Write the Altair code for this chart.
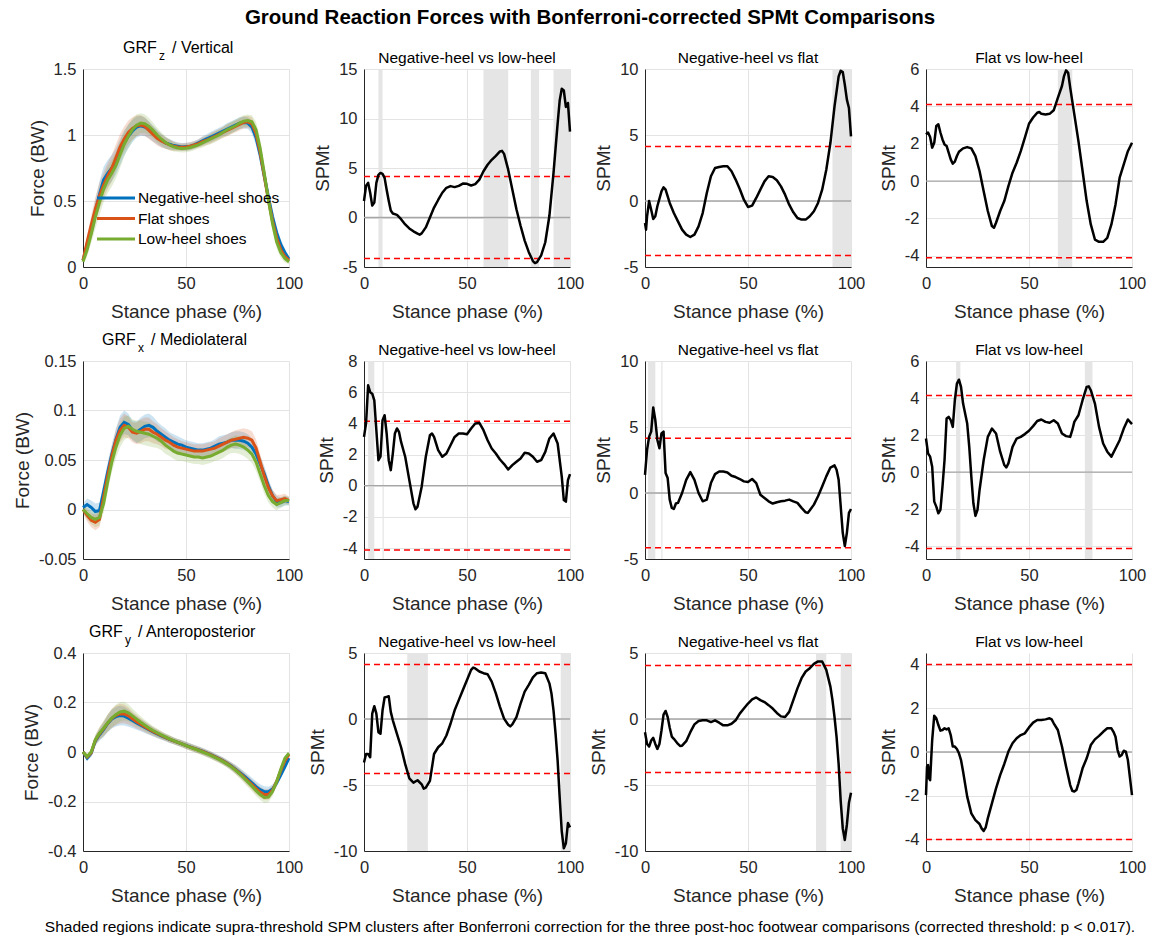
import altair as alt
import pandas as pd

FONT = "Liberation Sans"
INK = "#262626"
SHADE = "#e5e5e5"
PANEL_W, PANEL_H = 206, 198

SHOES = ["Negative-heel shoes", "Flat shoes", "Low-heel shoes"]
SHOE_COLORS = ["#0072BD", "#D95319", "#77AC30"]
COMPARISONS = ["Negative-heel vs low-heel", "Negative-heel vs flat", "Flat vs low-heel"]
TITLE = "Ground Reaction Forces with Bonferroni-corrected SPMt Comparisons"
FOOTER = ("Shaded regions indicate supra-threshold SPM clusters after Bonferroni correction for the "
          "three post-hoc footwear comparisons (corrected threshold: p < 0.017).")

# ---- mean GRF curves (BW), sampled every 2 % of stance ----
STANCE = list(range(0, 101, 2))

GRF_Z_NEG = [.05, .17, .29, .42, .55, .66, .71, .75, .80, .87, .94, .99, 1.03, 1.06, 1.07, 1.06, 1.04,
             1.01, .985, .96, .94, .93, .92, .915, .91, .912, .915, .925, .94, .955, .97, .985, 1.0,
             1.015, 1.03, 1.045, 1.06, 1.075, 1.09, 1.095, 1.09, 1.06, .98, .85, .69, .53, .38, .26,
             .17, .11, .06]
GRF_Z_FLAT = [.05, .19, .32, .44, .54, .62, .69, .75, .83, .91, .97, 1.02, 1.05, 1.07, 1.075, 1.065,
              1.035, 1.005, .975, .955, .94, .925, .915, .91, .908, .91, .915, .925, .935, .95, .96,
              .975, .99, 1.005, 1.02, 1.035, 1.05, 1.065, 1.08, 1.095, 1.1, 1.085, 1.01, .87, .69, .51,
              .35, .22, .13, .08, .05]
GRF_Z_LOW = [.04, .13, .25, .38, .49, .59, .66, .71, .77, .85, .93, .99, 1.04, 1.075, 1.09, 1.085,
             1.065, 1.035, 1.0, .97, .945, .925, .91, .902, .898, .9, .905, .915, .925, .94, .955, .97,
             .985, 1.0, 1.02, 1.04, 1.055, 1.07, 1.09, 1.105, 1.11, 1.1, 1.04, .9, .71, .51, .33, .19,
             .11, .065, .04]
GRF_Z_SD = [.02, .05, .07, .09, .1, .1, .1, .1, .1, .1, .095, .09, .085, .08, .075, .07, .065, .06,
            .055, .05, .045, .04, .035, .03, .03, .03, .03, .03, .03, .035, .035, .04, .04, .04, .04,
            .045, .045, .045, .045, .045, .045, .05, .06, .07, .07, .07, .06, .05, .04, .03, .02]

GRF_X_NEG = [.002, .005, .002, -.002, -.001, .018, .038, .056, .071, .083, .088, .086, .08, .078, .081,
             .084, .085, .083, .079, .076, .073, .07, .068, .066, .065, .063, .062, .061, .06, .06,
             .061, .062, .064, .066, .067, .068, .07, .07, .07, .069, .067, .063, .056, .046, .036,
             .024, .014, .008, .007, .009, .008]
GRF_X_FLAT = [0, -.006, -.011, -.013, -.01, .012, .034, .054, .07, .08, .085, .083, .078, .077, .079,
              .081, .081, .078, .076, .073, .07, .068, .065, .063, .062, .061, .06, .059, .059, .059,
              .06, .061, .062, .064, .066, .068, .07, .071, .072, .073, .072, .07, .062, .048, .034,
              .022, .014, .009, .01, .011, .009]
GRF_X_LOW = [0, -.004, -.008, -.01, -.008, .006, .028, .048, .063, .075, .082, .084, .081, .079, .078,
             .077, .076, .074, .072, .069, .065, .062, .059, .057, .056, .055, .054, .053, .053, .052,
             .053, .054, .056, .058, .06, .063, .065, .066, .065, .063, .06, .056, .048, .036, .024,
             .014, .008, .005, .007, .009, .009]
GRF_X_SD = [.004, .006, .007, .008, .008, .009, .01, .01, .011, .012, .012, .011, .01, .011, .012, .012,
            .012, .011, .01, .009, .009, .008, .008, .008, .007, .007, .007, .007, .007, .007, .007,
            .007, .007, .008, .008, .008, .008, .009, .009, .009, .009, .009, .009, .008, .008, .007,
            .006, .006, .005, .005, .004]

GRF_Y_NEG = [0, -.025, -.005, .045, .07, .09, .115, .133, .143, .147, .145, .137, .127, .117, .108, .099,
             .09, .081, .073, .065, .058, .051, .045, .039, .033, .027, .021, .015, .009, .003, -.004,
             -.011, -.019, -.027, -.036, -.046, -.057, -.069, -.082, -.096, -.11, -.125, -.14, -.152,
             -.16, -.161, -.15, -.125, -.093, -.06, -.025]
GRF_Y_FLAT = [0, -.02, -.003, .048, .074, .094, .117, .136, .148, .155, .154, .146, .134, .122, .112,
              .102, .092, .083, .075, .067, .059, .052, .045, .039, .033, .026, .02, .014, .008, .002,
              -.005, -.012, -.02, -.028, -.037, -.047, -.058, -.071, -.085, -.1, -.116, -.132, -.148,
              -.162, -.172, -.172, -.155, -.12, -.075, -.035, -.01]
GRF_Y_LOW = [0, -.018, 0, .05, .076, .096, .118, .137, .152, .162, .165, .158, .146, .133, .12, .108,
             .097, .087, .078, .069, .061, .053, .046, .039, .033, .026, .019, .013, .007, 0, -.007,
             -.014, -.022, -.03, -.039, -.049, -.06, -.073, -.088, -.104, -.121, -.138, -.156, -.172,
             -.184, -.182, -.16, -.12, -.07, -.025, -.005]
GRF_Y_SD = [.006, .01, .015, .02, .025, .03, .035, .038, .04, .04, .038, .035, .03, .027, .024, .022,
            .02, .018, .017, .016, .015, .015, .014, .014, .014, .014, .014, .014, .014, .014, .014,
            .014, .014, .014, .015, .015, .016, .017, .018, .019, .02, .021, .022, .022, .022, .021,
            .019, .016, .013, .01, .008]

# ---- SPM{t} curves: stance (%) and t value ----
Z_NL_X = [0, 1, 2, 3, 4, 5, 6, 7, 8, 9, 10, 11, 12, 13, 14, 16, 18, 20, 22, 24, 26, 27, 28, 30, 32, 34,
          36, 38, 40, 42, 44, 46, 48, 50, 52, 54, 56, 58, 60, 62, 64, 66, 67, 68, 70, 72, 74, 76, 78,
          80, 82, 83, 84, 86, 88, 90, 92, 94, 95, 96, 97, 98, 99, 100]
Z_NL_T = [1.67, 3.2, 3.5, 2.5, 1.2, 1.5, 3.5, 4.3, 4.5, 4.4, 4.0, 2.8, 1.7, 0.7, 0.4, 0.27, -0.17, -0.7,
          -1.1, -1.4, -1.63, -1.73, -1.6, -1.0, 0.0, 1.0, 1.77, 2.5, 3.0, 3.17, 3.07, 3.2, 3.43, 3.4,
          3.23, 3.37, 3.83, 4.67, 5.33, 5.83, 6.23, 6.67, 6.73, 6.43, 4.83, 2.83, 0.83, -0.83, -2.33,
          -3.5, -4.4, -4.6, -4.5, -3.83, -2.5, 0.17, 4.5, 9.5, 11.83, 13.0, 12.83, 11.17, 11.57, 8.67]

Z_NF_X = [0, 0.5, 1, 2, 3, 4, 5, 6, 8, 9, 10, 12, 14, 16, 18, 20, 22, 24, 26, 28, 30, 32, 34, 36, 38,
          40, 42, 44, 46, 48, 50, 52, 54, 56, 58, 60, 62, 64, 66, 68, 70, 72, 74, 76, 78, 80, 82, 84,
          86, 88, 90, 92, 93, 94, 95, 96, 97, 98, 99, 100]
Z_NF_T = [-1.67, -2.17, -1.16, 0.0, -0.66, -1.36, -1.16, -0.4, 0.73, 1.04, 0.86, -0.15, -0.91, -1.54,
          -2.17, -2.55, -2.73, -2.55, -1.92, -0.91, 0.61, 1.87, 2.5, 2.58, 2.63, 2.63, 2.25, 1.62, 0.91,
          0.1, -0.45, -0.35, 0.23, 0.86, 1.49, 1.87, 1.82, 1.57, 1.11, 0.48, -0.28, -0.86, -1.29, -1.41,
          -1.41, -1.16, -0.78, -0.15, 0.86, 2.37, 4.39, 7.17, 8.3, 9.44, 9.87, 9.77, 8.81, 7.68, 7.05,
          4.9]

Z_FL_X = [0, 1, 2, 3, 4, 5, 6, 7, 8, 9, 10, 11, 12, 13, 14, 15, 16, 18, 20, 22, 24, 26, 28, 30, 32, 33,
          34, 36, 38, 40, 42, 44, 46, 48, 50, 52, 54, 55, 56, 58, 60, 62, 64, 66, 67, 68, 69, 70, 72,
          74, 76, 78, 80, 82, 84, 86, 88, 90, 92, 94, 96, 98, 100]
Z_FL_T = [2.5, 2.6, 2.36, 1.79, 2.05, 2.95, 3.04, 2.6, 2.23, 1.96, 1.88, 1.52, 1.16, 0.93, 1.04, 1.34,
          1.57, 1.75, 1.82, 1.75, 1.34, 0.54, -0.54, -1.6, -2.41, -2.5, -2.23, -1.6, -1.07, -0.27, 0.45,
          0.98, 1.6, 2.32, 3.07, 3.4, 3.66, 3.7, 3.6, 3.57, 3.6, 3.79, 4.46, 5.09, 5.62, 5.93, 5.8, 5.0,
          3.57, 2.14, 0.54, -1.07, -2.32, -3.13, -3.25, -3.25, -3.04, -2.32, -1.25, 0.18, 0.9, 1.6, 2.05]

X_NL_X = [0, 1, 2, 3, 4, 5, 6, 7, 8, 9, 10, 11, 12, 13, 14, 15, 16, 17, 18, 20, 22, 24, 25, 26, 28, 30,
          32, 33, 34, 36, 38, 40, 42, 44, 46, 48, 50, 52, 54, 56, 58, 60, 62, 64, 66, 68, 70, 72, 74,
          76, 78, 80, 82, 84, 86, 88, 90, 92, 94, 96, 97, 98, 99, 100]
X_NL_T = [3.13, 4.0, 6.44, 6.0, 5.9, 5.48, 3.56, 1.64, 1.86, 4.2, 4.52, 3.35, 1.64, 1.0, 2.07, 3.35, 3.67,
          3.45, 2.81, 1.86, 0.36, -1.13, -1.51, -1.34, -0.06, 1.86, 3.24, 3.35, 3.13, 2.28, 1.86, 2.07,
          2.6, 3.13, 3.35, 3.35, 3.3, 3.67, 3.99, 4.03, 3.56, 2.92, 2.39, 2.07, 1.68, 1.39, 1.04, 1.32,
          1.54, 1.75, 2.11, 2.07, 1.86, 1.54, 1.64, 2.17, 3.03, 3.35, 2.71, 0.58, -0.92, -1.02, 0.36,
          0.75]

X_NF_X = [0, 1, 2, 3, 4, 5, 6, 7, 8, 9, 10, 11, 12, 13, 14, 15, 16, 18, 20, 22, 24, 26, 28, 30, 32, 34,
          36, 38, 40, 42, 44, 46, 48, 50, 52, 54, 56, 58, 60, 62, 64, 66, 68, 70, 72, 74, 76, 78, 79,
          80, 82, 84, 86, 88, 90, 92, 93, 94, 95, 96, 97, 98, 99, 100]
X_NF_T = [1.38, 3.27, 4.27, 4.65, 6.48, 5.53, 4.02, 3.39, 4.52, 4.65, 1.51, 1.13, -0.5, -1.13, -1.21,
          -0.8, -0.75, 0.0, 1.0, 1.58, 1.0, 0.0, -0.63, -0.5, 0.75, 1.43, 1.63, 1.63, 1.56, 1.31, 1.21,
          1.06, 0.88, 0.83, 1.06, 0.75, -0.13, -0.38, -0.63, -0.8, -0.7, -0.63, -0.58, -0.5, -0.63,
          -0.75, -1.13, -1.46, -1.51, -1.31, -0.88, -0.25, 0.5, 1.26, 1.93, 2.09, 1.76, 1.0, -1.0,
          -3.02, -4.02, -3.02, -1.51, -1.21]

X_FL_X = [0, 1, 2, 3, 4, 5, 6, 7, 8, 9, 10, 11, 12, 13, 14, 15, 16, 17, 18, 20, 21, 22, 23, 24, 25, 26,
          28, 30, 32, 34, 36, 38, 39, 40, 42, 44, 46, 48, 50, 52, 54, 56, 58, 60, 62, 64, 66, 68, 70,
          71, 72, 74, 76, 78, 79, 80, 82, 84, 86, 88, 90, 92, 94, 96, 98, 100]
X_FL_T = [1.81, 1.0, 0.83, 0.29, -1.6, -1.87, -2.23, -2.05, -0.79, 0.65, 2.89, 2.98, 2.8, 2.44, 3.88,
          4.78, 4.99, 4.6, 3.7, 2.62, 1.36, -0.25, -1.69, -2.37, -2.05, -0.97, 0.65, 1.9, 2.35, 2.08,
          1.1, 0.38, 0.25, 0.47, 1.36, 1.81, 1.9, 2.05, 2.23, 2.48, 2.76, 2.84, 2.71, 2.66, 2.8, 2.62,
          2.08, 1.94, 1.9, 2.26, 2.71, 3.07, 3.88, 4.6, 4.63, 4.42, 3.7, 2.44, 1.54, 1.1, 0.83, 1.27,
          1.72, 2.35, 2.84, 2.59]

Y_NL_X = [0, 1, 2, 3, 4, 5, 6, 7, 8, 9, 10, 11, 12, 13, 14, 15, 16, 18, 20, 22, 24, 26, 28, 29, 30, 32,
          34, 36, 38, 40, 42, 44, 46, 48, 50, 52, 53, 54, 56, 58, 60, 62, 64, 66, 68, 70, 71, 72, 74,
          76, 78, 80, 82, 84, 86, 88, 90, 91, 92, 93, 94, 95, 96, 97, 98, 99, 100]
Y_NL_T = [-3.29, -2.65, -2.65, -2.9, 0.41, 0.97, 0.41, -1.0, -1.12, 0.66, 1.63, 1.68, 1.73, 0.54, -0.1,
          -0.61, -1.12, -2.14, -3.42, -4.49, -4.82, -4.64, -4.95, -5.28, -5.2, -4.69, -2.65, -2.14,
          -1.84, -1.25, -0.36, 0.66, 1.43, 2.19, 2.96, 3.72, 3.9, 3.83, 3.6, 3.47, 3.39, 2.83, 1.94,
          0.92, 0.03, -0.43, -0.56, -0.41, 0.15, 1.17, 2.07, 2.58, 3.16, 3.47, 3.52, 3.47, 2.7, 1.94,
          0.66, -1.12, -3.16, -5.97, -8.52, -9.8, -9.41, -7.88, -8.21]

Y_NF_X = [0, 1, 2, 3, 4, 5, 6, 7, 8, 9, 10, 11, 12, 13, 14, 16, 17, 18, 20, 22, 24, 26, 28, 30, 32, 34,
          36, 38, 40, 42, 44, 46, 48, 50, 52, 54, 56, 58, 60, 62, 64, 66, 68, 70, 72, 74, 76, 78, 80,
          82, 84, 86, 88, 90, 91, 92, 93, 94, 95, 96, 97, 98, 99, 100]
Y_NF_T = [-1.0, -1.89, -2.09, -1.63, -1.43, -1.89, -2.27, -1.89, -0.87, 0.33, 0.61, 0.15, -0.66, -1.33,
          -1.5, -1.89, -2.04, -2.02, -1.68, -1.0, -0.41, -0.15, -0.1, -0.1, -0.23, -0.1, -0.28, -0.48,
          -0.48, -0.36, -0.1, 0.41, 0.79, 1.17, 1.48, 1.63, 1.43, 1.28, 1.05, 0.79, 0.46, 0.2, 0.15,
          0.54, 1.43, 2.32, 3.09, 3.6, 3.85, 4.18, 4.36, 4.36, 3.72, 2.45, 1.43, 0.15, -1.38, -3.42,
          -6.22, -8.27, -9.16, -8.01, -6.35, -5.59]

Y_FL_X = [0, 0.5, 1, 1.5, 2, 3, 4, 5, 6, 7, 8, 9, 10, 11, 12, 13, 14, 15, 16, 17, 18, 20, 22, 24, 26,
          27, 28, 29, 30, 32, 34, 36, 38, 40, 42, 44, 46, 48, 50, 52, 54, 56, 58, 60, 61, 62, 64, 66,
          68, 70, 71, 72, 73, 74, 76, 78, 80, 82, 84, 86, 88, 90, 91, 92, 93, 94, 95, 96, 97, 98, 100]
Y_FL_T = [-1.98, -0.67, -0.6, -1.21, -1.29, 0.55, 1.67, 1.55, 1.24, 0.98, 1.01, 1.09, 1.04, 1.09, 0.78,
          0.25, 0.25, 0.14, -0.06, -0.37, -0.9, -2.05, -2.82, -3.13, -3.31, -3.51, -3.63, -3.46, -3.05,
          -2.36, -1.67, -1.06, -0.55, 0.02, 0.4, 0.63, 0.78, 0.86, 1.13, 1.35, 1.47, 1.47, 1.5, 1.55,
          1.5, 1.32, 1.01, 0.25, -0.67, -1.52, -1.78, -1.82, -1.75, -1.44, -0.75, -0.29, 0.32, 0.58,
          0.74, 0.93, 1.09, 1.09, 0.93, 0.7, 0.09, -0.21, -0.14, 0.06, 0.02, -0.37, -1.98]

# critical t thresholds (Bonferroni) per comparison
THR_Z = [4.15, 4.13, 4.1]
THR_X = [4.13, 4.15, 4.13]
THR_Y = [4.13, 4.05, 4.02]

# supra-threshold clusters (start, end) in % stance
CL_Z = [[(7, 9), (58, 70), (81, 85), (92, 100)], [(91, 100)], [(64, 71)]]
CL_X = [[(2, 5), (9, 9.6)], [(1.5, 5), (7.9, 8.5)], [(14.6, 16.7), (77.1, 80.8)]]
CL_Y = [[(21, 31), (95.5, 100)], [(83, 88), (95, 100)], []]

LABEL_EXPR = ("datum.value < 0 ? '-' + format(-datum.value, '~g') "
              ": format(datum.value, '~g')")


def x_enc():
    return alt.X("x:Q", scale=alt.Scale(domain=[0, 100], nice=False, zero=False),
                 axis=alt.Axis(values=[0, 50, 100], title="Stance phase (%)",
                               labelExpr=LABEL_EXPR, labelFlush=False))


def y_enc(field, domain, ticks, title):
    return alt.Y(f"{field}:Q", scale=alt.Scale(domain=domain, nice=False, zero=False),
                 axis=alt.Axis(values=ticks, title=title, labelExpr=LABEL_EXPR, labelFlush=False))


def text_layer(text, x, y, size, align="left", weight="normal"):
    return alt.Chart(pd.DataFrame({"label": [text]})).mark_text(
        align=align, baseline="alphabetic", fontSize=size, font=FONT, color="black",
        fontWeight=weight
    ).encode(x=alt.value(x), y=alt.value(y), text="label:N")


def grf_panel(sub, rest, title_x, means, sd, domain, ticks, legend=False, footer=False):
    X = x_enc()
    bands, lines = [], []
    for color, mean in zip(SHOE_COLORS, means):
        df = pd.DataFrame({"x": STANCE, "m": mean,
                           "lo": [m - s for m, s in zip(mean, sd)],
                           "hi": [m + s for m, s in zip(mean, sd)]})
        bands.append(alt.Chart(df).mark_area(color=color, opacity=0.2).encode(
            x=X, y=y_enc("lo", domain, ticks, "Force (BW)"), y2="hi:Q"))
        lines.append(alt.Chart(df).mark_line(color=color, strokeWidth=3).encode(
            x=X, y=y_enc("m", domain, ticks, "Force (BW)")))
    layers = bands + lines
    # panel heading with a subscripted component letter
    layers += [text_layer("GRF", title_x, -16, 16),
               text_layer(sub, title_x + 36, -9, 12),
               text_layer("/ " + rest, title_x + 49, -16, 16)]
    if legend:
        # figure title, centred over the whole grid
        layers.append(text_layer(TITLE, 507, -45, 20.5, align="center", weight="bold"))
        for i, (name, color) in enumerate(zip(SHOES, SHOE_COLORS)):
            row_y = 129 + 20.5 * i
            layers.append(alt.Chart(pd.DataFrame({"label": [name]})).mark_rule(
                color=color, strokeWidth=3).encode(
                x=alt.value(14), x2=alt.value(52), y=alt.value(row_y)))
            layers.append(alt.Chart(pd.DataFrame({"label": [name]})).mark_text(
                align="left", baseline="middle", fontSize=15.5, font=FONT, color="black").encode(
                x=alt.value(55), y=alt.value(row_y), text="label:N"))
    if footer:
        layers.append(text_layer(FOOTER, 507, 279, 15.5, align="center"))
    return alt.layer(*layers).properties(width=PANEL_W, height=PANEL_H)


def spm_panel(title, xs, ts, thr, clusters, domain, ticks):
    X = x_enc()
    layers = []
    if clusters:
        shade = pd.DataFrame({"x": [c[0] for c in clusters], "x_end": [c[1] for c in clusters],
                              "lo": domain[0], "hi": domain[1]})
        layers.append(alt.Chart(shade).mark_rect(color=SHADE).encode(
            x=X, x2="x_end:Q", y=y_enc("lo", domain, ticks, "SPMt"), y2="hi:Q"))
    zero = pd.DataFrame({"x": [0], "x_end": [100], "y": [0]})
    layers.append(alt.Chart(zero).mark_rule(color="#a6a6a6", strokeWidth=1.3).encode(
        x=X, x2="x_end:Q", y=y_enc("y", domain, ticks, "SPMt")))
    limits = pd.DataFrame({"x": [0, 0], "x_end": [100, 100], "y": [thr, -thr]})
    layers.append(alt.Chart(limits).mark_rule(color="#ff0000", strokeWidth=1.5,
                                              strokeDash=[6, 4]).encode(
        x=X, x2="x_end:Q", y=y_enc("y", domain, ticks, "SPMt")))
    curve = pd.DataFrame({"x": xs, "t": ts})
    layers.append(alt.Chart(curve).mark_line(color="black", strokeWidth=2.5,
                                             strokeJoin="round").encode(
        x=X, y=y_enc("t", domain, ticks, "SPMt")))
    # comparison heading centred over the plot area
    layers.append(text_layer(title, PANEL_W / 2, -6, 15.5, align="center"))
    return alt.layer(*layers).properties(width=PANEL_W, height=PANEL_H)


panels = [
    grf_panel("z", "Vertical", 40, [GRF_Z_NEG, GRF_Z_FLAT, GRF_Z_LOW], GRF_Z_SD,
              [0, 1.5], [0, 0.5, 1, 1.5], legend=True),
    spm_panel(COMPARISONS[0], Z_NL_X, Z_NL_T, THR_Z[0], CL_Z[0], [-5, 15], [-5, 0, 5, 10, 15]),
    spm_panel(COMPARISONS[1], Z_NF_X, Z_NF_T, THR_Z[1], CL_Z[1], [-5, 10], [-5, 0, 5, 10]),
    spm_panel(COMPARISONS[2], Z_FL_X, Z_FL_T, THR_Z[2], CL_Z[2], [-4.6, 6], [-4, -2, 0, 2, 4, 6]),

    grf_panel("x", "Mediolateral", 19, [GRF_X_NEG, GRF_X_FLAT, GRF_X_LOW], GRF_X_SD,
              [-0.05, 0.15], [-0.05, 0, 0.05, 0.1, 0.15]),
    spm_panel(COMPARISONS[0], X_NL_X, X_NL_T, THR_X[0], CL_X[0], [-4.7, 8],
              [-4, -2, 0, 2, 4, 6, 8]),
    spm_panel(COMPARISONS[1], X_NF_X, X_NF_T, THR_X[1], CL_X[1], [-5, 10], [-5, 0, 5, 10]),
    spm_panel(COMPARISONS[2], X_FL_X, X_FL_T, THR_X[2], CL_X[2], [-4.7, 6], [-4, -2, 0, 2, 4, 6]),

    grf_panel("y", "Anteroposterior", 6, [GRF_Y_NEG, GRF_Y_FLAT, GRF_Y_LOW], GRF_Y_SD,
              [-0.4, 0.4], [-0.4, -0.2, 0, 0.2, 0.4], footer=True),
    spm_panel(COMPARISONS[0], Y_NL_X, Y_NL_T, THR_Y[0], CL_Y[0], [-10, 5], [-10, -5, 0, 5]),
    spm_panel(COMPARISONS[1], Y_NF_X, Y_NF_T, THR_Y[1], CL_Y[1], [-10, 5], [-10, -5, 0, 5]),
    spm_panel(COMPARISONS[2], Y_FL_X, Y_FL_T, THR_Y[2], CL_Y[2], [-4.55, 4.55], [-4, -2, 0, 2, 4]),
]

chart = alt.concat(
    *panels, columns=4, spacing={"row": 94, "column": 75}, bounds="flush"
).configure(
    font=FONT, padding={"left": 13, "top": 8, "right": 2, "bottom": 1}
).configure_view(
    stroke=None
).configure_axis(
    labelFont=FONT, titleFont=FONT, labelFontSize=16.5, titleFontSize=19,
    labelColor=INK, titleColor=INK, titleFontWeight="normal",
    gridColor="#e3e3e3", domainColor=INK, domainWidth=1, ticks=False
).configure_axisX(
    labelPadding=8, titlePadding=11
).configure_axisY(
    labelPadding=7, titlePadding=6
)

chart.save("out.html", embed_options={"renderer": "svg", "actions": False})
